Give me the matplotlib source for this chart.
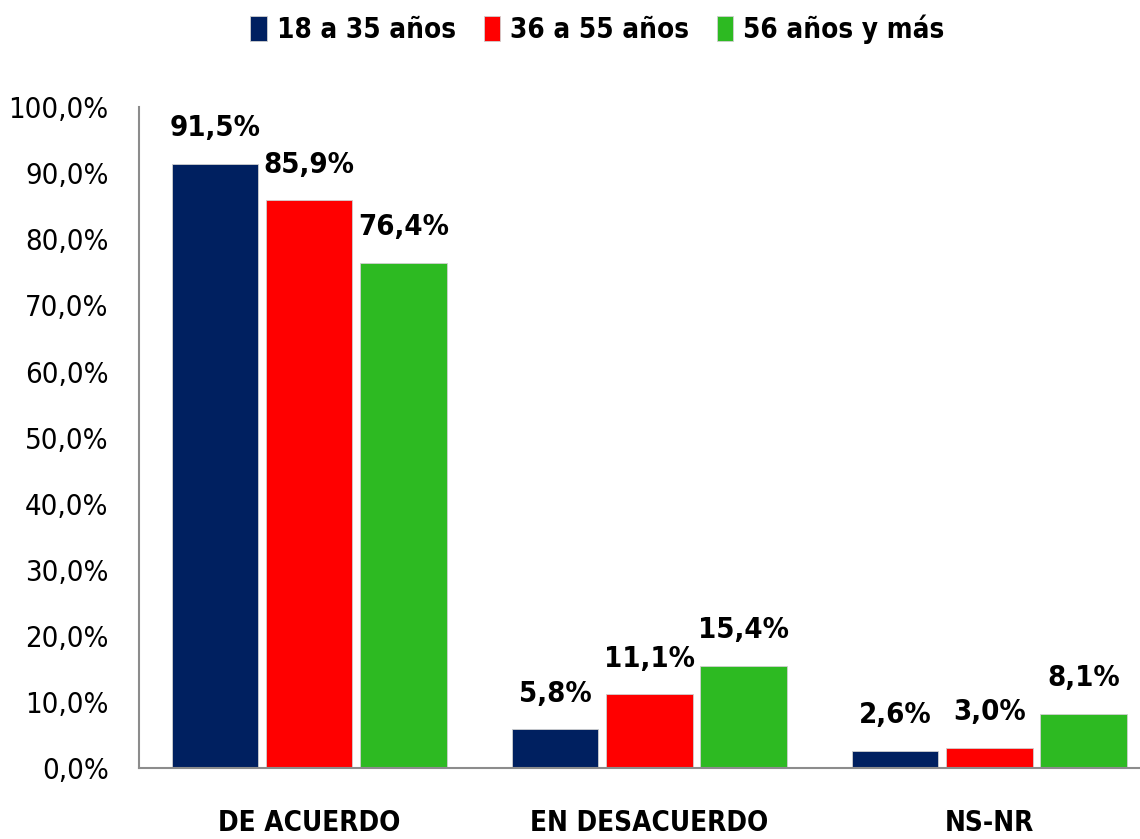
import matplotlib.pyplot as plt
import numpy as np
from matplotlib.ticker import FuncFormatter

plt.rcParams['font.family'] = ['DejaVu Sans']
plt.rcParams['font.stretch'] = 'condensed'

categories = ['DE ACUERDO', 'EN DESACUERDO', 'NS-NR']
series = ['18 a 35 años', '36 a 55 años', '56 años y más']
values = {
    '18 a 35 años': [91.5, 5.8, 2.6],
    '36 a 55 años': [85.9, 11.1, 3.0],
    '56 años y más': [76.4, 15.4, 8.1],
}
colors = ['#002060', '#FF0000', '#2DBA22']

fig = plt.figure(figsize=(11.4, 8.39), dpi=100)
ax = fig.add_axes([0.122, 0.085, 0.895, 0.787])

x = np.arange(len(categories))
width = 0.255
step = 0.277
for i, (name, col) in enumerate(zip(series, colors)):
    pos = x + (i - 1) * step
    bars = ax.bar(pos, values[name], width, color=col, label=name,
                  edgecolor='#d0d0d0', linewidth=0.6)
    for b, v in zip(bars, values[name]):
        ax.text(b.get_x() + b.get_width() / 2, v + 3.3,
                f'{v:.1f}%'.replace('.', ','), ha='center', va='bottom',
                fontsize=21, fontweight='bold')

ax.set_xlim(-0.5, 2.5)
ax.set_ylim(0, 100)
ax.set_yticks(np.arange(0, 101, 10))
ax.yaxis.set_major_formatter(FuncFormatter(lambda v, p: f'{v:.1f}%'.replace('.', ',')))
ax.set_xticks(x)
ax.set_xticklabels(categories, fontsize=20, fontweight='bold')
ax.tick_params(axis='y', labelsize=21, length=0, pad=22)
ax.tick_params(axis='x', length=0, pad=30)
for s in ['top', 'right']:
    ax.spines[s].set_visible(False)
for s in ['left', 'bottom']:
    ax.spines[s].set_color('#8c8c8c')
    ax.spines[s].set_linewidth(1.5)

leg = fig.legend(loc='upper center', bbox_to_anchor=(0.524, 1.012), ncol=3,
                 frameon=False, prop={'size': 20, 'weight': 'bold', 'stretch': 'condensed'},
                 handlelength=0.6, handleheight=1.0, handletextpad=0.35,
                 columnspacing=1.0)

fig.savefig('out.png', dpi=100)
